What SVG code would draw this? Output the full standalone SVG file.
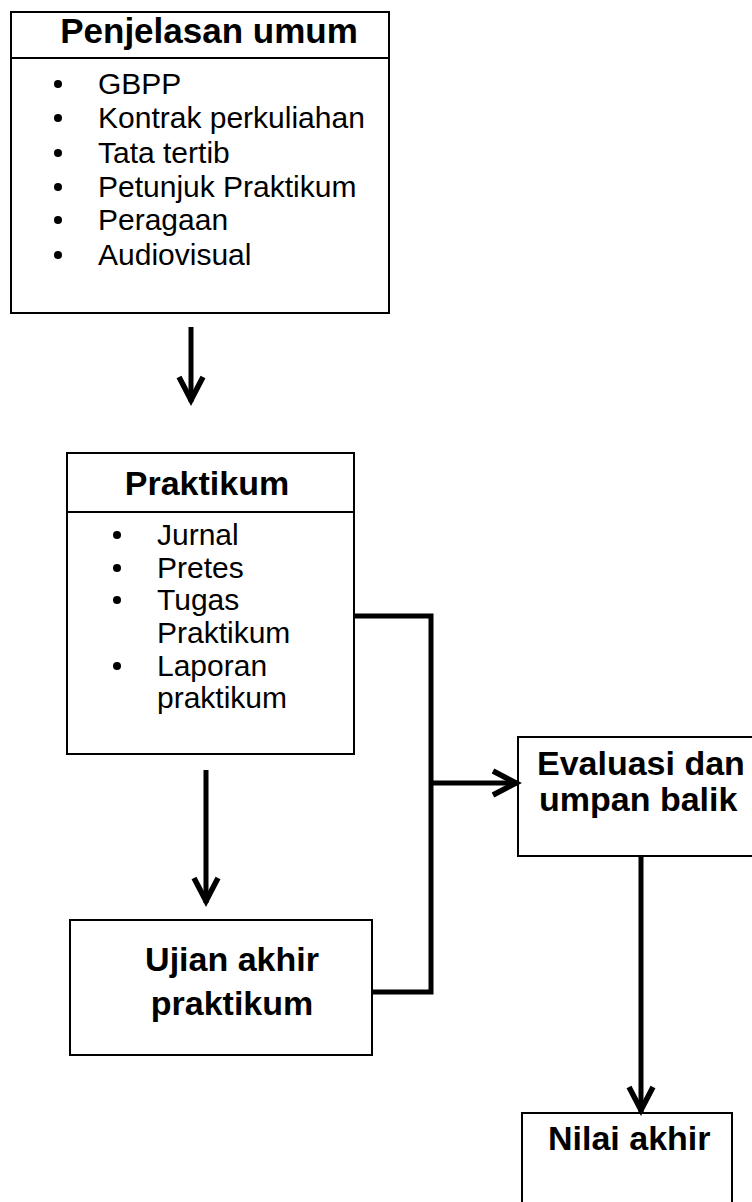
<svg xmlns="http://www.w3.org/2000/svg" width="752" height="1202" viewBox="0 0 752 1202">
<style>
.box{fill:#fff;stroke:#000;stroke-width:2}
.div{stroke:#000;stroke-width:2}
.t{font-family:"Liberation Sans",Arial,sans-serif;font-weight:bold;font-size:34px;fill:#000}
.i{font-family:"Liberation Sans",Arial,sans-serif;font-size:30px;fill:#000}
.c{fill:none;stroke:#000;stroke-width:5}
.b{fill:#000}
</style>
<defs>
<marker id="ah" markerUnits="userSpaceOnUse" markerWidth="40" markerHeight="40" refX="30" refY="15" orient="auto" overflow="visible">
<path d="M5,3 L28,15 L5,27" fill="none" stroke="#000" stroke-width="5.5" stroke-linejoin="miter"/>
</marker>
</defs>
<rect width="752" height="1202" fill="#fff"/>
<g id="penjelasan">
<rect class="box" x="11" y="12" width="378" height="301"/>
<line class="div" x1="11" y1="58" x2="389" y2="58"/>
<text class="t" x="209" y="43" text-anchor="middle" style="font-size:35px">Penjelasan umum</text>
<circle class="b" cx="58" cy="84" r="4"/><text class="i" x="98" y="94">GBPP</text>
<circle class="b" cx="58" cy="118" r="4"/><text class="i" x="98" y="128">Kontrak perkuliahan</text>
<circle class="b" cx="58" cy="153" r="4"/><text class="i" x="98" y="163">Tata tertib</text>
<circle class="b" cx="58" cy="187" r="4"/><text class="i" x="98" y="197">Petunjuk Praktikum</text>
<circle class="b" cx="58" cy="220" r="4"/><text class="i" x="98" y="230">Peragaan</text>
<circle class="b" cx="58" cy="255" r="4"/><text class="i" x="98" y="265">Audiovisual</text>
</g>
<g id="praktikum">
<rect class="box" x="67" y="453" width="287" height="301"/>
<line class="div" x1="67" y1="512" x2="354" y2="512"/>
<text class="t" x="207" y="495" text-anchor="middle">Praktikum</text>
<circle class="b" cx="117" cy="535" r="4"/><text class="i" x="157" y="545">Jurnal</text>
<circle class="b" cx="117" cy="568" r="4"/><text class="i" x="157" y="578">Pretes</text>
<circle class="b" cx="117" cy="600" r="4"/><text class="i" x="157" y="610">Tugas</text>
<text class="i" x="157" y="643">Praktikum</text>
<circle class="b" cx="117" cy="666" r="4"/><text class="i" x="157" y="676">Laporan</text>
<text class="i" x="157" y="708">praktikum</text>
</g>
<g id="ujian">
<rect class="box" x="70" y="920" width="302" height="135"/>
<text class="t" x="232" y="971" text-anchor="middle">Ujian akhir</text>
<text class="t" x="232" y="1015" text-anchor="middle">praktikum</text>
</g>
<g id="evaluasi">
<rect class="box" x="518" y="737" width="250" height="119"/>
<text class="t" x="537" y="775">Evaluasi dan</text>
<text class="t" x="539" y="811">umpan balik</text>
</g>
<g id="nilai">
<rect class="box" x="522" y="1113" width="210" height="110"/>
<text class="t" x="548" y="1150">Nilai akhir</text>
</g>
<g id="connectors">
<line class="c" x1="191" y1="327" x2="191" y2="402" marker-end="url(#ah)"/>
<line class="c" x1="206" y1="770" x2="206" y2="903" marker-end="url(#ah)"/>
<polyline class="c" points="354,616 431,616 431,992 372,992"/>
<line class="c" x1="431" y1="783" x2="518" y2="783" marker-end="url(#ah)"/>
<line class="c" x1="641" y1="856" x2="641" y2="1112" marker-end="url(#ah)"/>
</g>
</svg>
